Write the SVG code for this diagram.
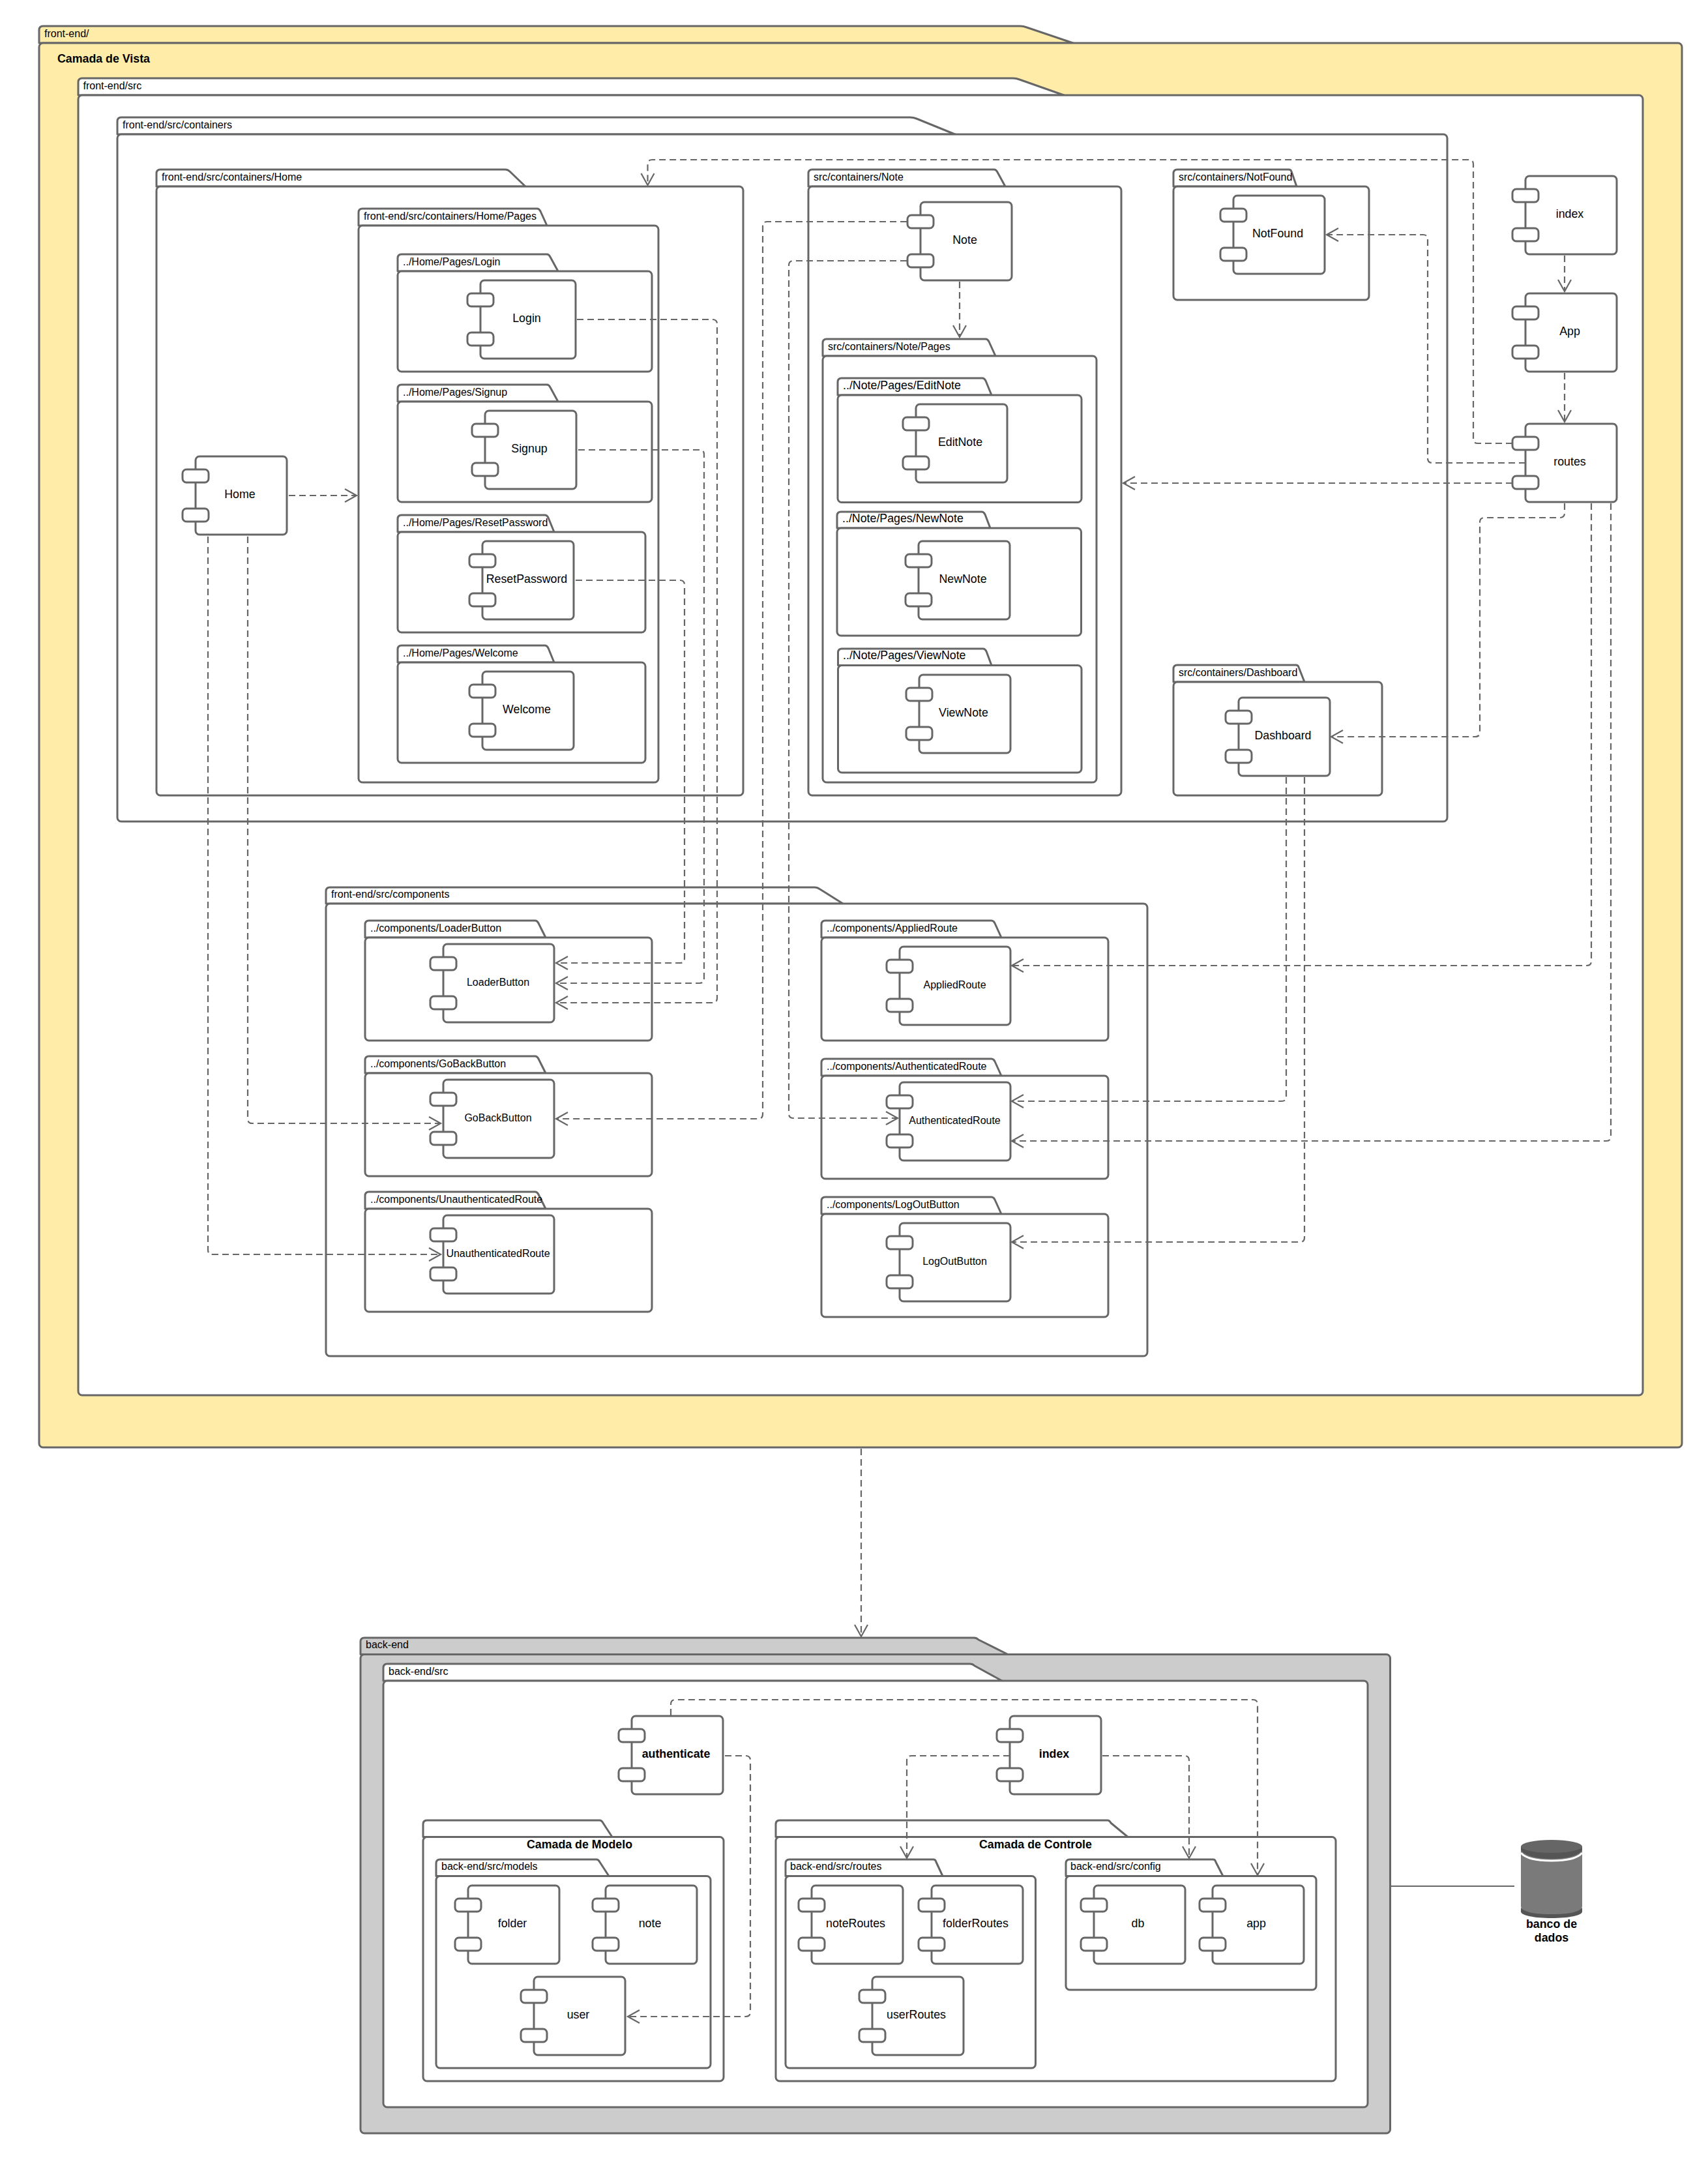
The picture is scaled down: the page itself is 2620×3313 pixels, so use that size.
<svg xmlns="http://www.w3.org/2000/svg" width="2620" height="3313" viewBox="0 0 2620 3313">
<style>
text{font-family:"Liberation Sans",Arial,sans-serif;fill:#000}
.l{font-size:16px}
.m{font-size:17.8px}
.b{font-size:17.8px;font-weight:700}
.s{font-size:16px;text-anchor:middle}
.mc{font-size:17.8px;text-anchor:middle}
.bc{font-size:17.8px;font-weight:700;text-anchor:middle}
.w path,.w rect{fill:#fff;stroke:#666;stroke-width:3;stroke-linejoin:round}
.y path,.y rect{fill:#ffeca9;stroke:#666;stroke-width:3;stroke-linejoin:round}
.g path,.g rect{fill:#ccc;stroke:#666;stroke-width:3;stroke-linejoin:round}
.k rect,#comp rect{fill:#fff;stroke:#666;stroke-width:3}
.d{fill:none;stroke:#666;stroke-width:2.2;stroke-dasharray:10 6}
.a{fill:none;stroke:#666;stroke-width:2.2}
</style>
<defs>
<symbol id="comp" overflow="visible"><rect x="20" width="140" height="120" rx="6"/><rect y="20" width="40" height="20" rx="6"/><rect y="80" width="40" height="20" rx="6"/></symbol>
</defs>
<g id="pkg-front-end" class="y"><path d="M60 66V46q0-6 6-6H1565q5 0 10 2L1646 66z"/><rect x="60" y="66" width="2520" height="2154" rx="6"/><text x="68" y="56.500" class="l">front-end/</text><text x="88" y="96" class="b">Camada de Vista</text></g>
<g id="pkg-src" class="w"><path d="M120 146V126q0-6 6-6H1554q5 0 10 2L1632 146z"/><rect x="120" y="146" width="2400" height="1994" rx="6"/><text x="127.500" y="136.500" class="l">front-end/src</text></g>
<g id="pkg-containers" class="w"><path d="M180 206V186q0-6 6-6H1396q5 0 10 2L1465 206z"/><rect x="180" y="206" width="2040" height="1054" rx="6"/><text x="188" y="196.500" class="l">front-end/src/containers</text></g>
<g id="pkg-home" class="w"><path d="M240 286V266q0-6 6-6H775q4 0 7 3L806 286z"/><rect x="240" y="286" width="900" height="934" rx="6"/><text x="248" y="276.500" class="l">front-end/src/containers/Home</text></g>
<g id="pkg-home-pages" class="w"><path d="M550 346V326q0-6 6-6H824q3 0 5 4L839 346z"/><rect x="550" y="346" width="460" height="854" rx="6"/><text x="558" y="336.500" class="l">front-end/src/containers/Home/Pages</text></g>
<g id="pkg-login" class="w"><path d="M610 416V396q0-6 6-6H839q3 0 5 4L856 416z"/><rect x="610" y="416" width="390" height="154" rx="6"/><text x="618" y="406.500" class="l">../Home/Pages/Login</text></g>
<g id="comp-login" class="k"><rect x="737" y="430" width="146" height="120" rx="6"/><rect x="717" y="450" width="40" height="20" rx="6"/><rect x="717" y="510" width="40" height="20" rx="6"/><text x="808" y="494" class="mc">Login</text></g>
<g id="pkg-signup" class="w"><path d="M610 616V596q0-6 6-6H839q3 0 5 4L856 616z"/><rect x="610" y="616" width="390" height="154" rx="6"/><text x="618" y="606.500" class="l">../Home/Pages/Signup</text></g>
<g id="comp-signup" class="k"><use href="#comp" x="724" y="630"/><text x="812" y="694" class="mc">Signup</text></g>
<g id="pkg-reset" class="w"><path d="M610 816V796q0-6 6-6H836q3 0 5 4L850 816z"/><rect x="610" y="816" width="380" height="154" rx="6"/><text x="618" y="806.500" class="l">../Home/Pages/ResetPassword</text></g>
<g id="comp-reset" class="k"><use href="#comp" x="720" y="830"/><text x="808" y="893.500" class="mc">ResetPassword</text></g>
<g id="pkg-welcome" class="w"><path d="M610 1016V996q0-6 6-6H836q3 0 5 4L850 1016z"/><rect x="610" y="1016" width="380" height="154" rx="6"/><text x="618" y="1006.500" class="l">../Home/Pages/Welcome</text></g>
<g id="comp-welcome" class="k"><use href="#comp" x="720" y="1030"/><text x="808" y="1093.500" class="mc">Welcome</text></g>
<g id="comp-home" class="k"><use href="#comp" x="280" y="700"/><text x="368" y="763.500" class="mc">Home</text></g>
<g id="pkg-note" class="w"><path d="M1240 286V266q0-6 6-6H1525q3 0 5 4L1542 286z"/><rect x="1240" y="286" width="480" height="934" rx="6"/><text x="1248" y="276.500" class="l">src/containers/Note</text></g>
<g id="comp-note" class="k"><use href="#comp" x="1392" y="310"/><text x="1480" y="373.500" class="mc">Note</text></g>
<g id="pkg-note-pages" class="w"><path d="M1262 546V526q0-6 6-6H1512q3 0 5 4L1527 546z"/><rect x="1262" y="546" width="420" height="654" rx="6"/><text x="1270" y="536.500" class="l">src/containers/Note/Pages</text></g>
<g id="pkg-editnote" class="w"><path d="M1285 606V586q0-6 6-6H1507q3 0 5 4L1521 606z"/><rect x="1285" y="606" width="374" height="164.500" rx="6"/><text x="1293" y="597" class="m">../Note/Pages/EditNote</text></g>
<g id="comp-editnote" class="k"><use href="#comp" x="1385" y="620"/><text x="1473" y="683.500" class="mc">EditNote</text></g>
<g id="pkg-newnote" class="w"><path d="M1284 810V791q0-6 6-6H1506q3 0 5 4L1519 810z"/><rect x="1284" y="810" width="374.500" height="165" rx="6"/><text x="1292" y="801" class="m">../Note/Pages/NewNote</text></g>
<g id="comp-newnote" class="k"><use href="#comp" x="1389" y="830"/><text x="1477" y="893.500" class="mc">NewNote</text></g>
<g id="pkg-viewnote" class="w"><path d="M1285.500 1020.500V1001q0-6 6-6H1508q3 0 5 4L1521 1020.500z"/><rect x="1285.500" y="1020.500" width="373.500" height="164.500" rx="6"/><text x="1293" y="1011" class="m">../Note/Pages/ViewNote</text></g>
<g id="comp-viewnote" class="k"><use href="#comp" x="1390" y="1035"/><text x="1478" y="1098.500" class="mc">ViewNote</text></g>
<g id="pkg-notfound" class="w"><path d="M1800 286V266q0-6 6-6H1977q3 0 4 3L1989 286z"/><rect x="1800" y="286" width="300" height="174" rx="6"/><text x="1808" y="276.500" class="l">src/containers/NotFound</text></g>
<g id="comp-notfound" class="k"><use href="#comp" x="1872" y="300"/><text x="1960" y="363.500" class="mc">NotFound</text></g>
<g id="pkg-dashboard" class="w"><path d="M1800 1046V1026q0-6 6-6H1988q3 0 4 3L2001 1046z"/><rect x="1800" y="1046" width="320" height="174" rx="6"/><text x="1808" y="1036.500" class="l">src/containers/Dashboard</text></g>
<g id="comp-dashboard" class="k"><use href="#comp" x="1880" y="1070"/><text x="1968" y="1133.500" class="mc">Dashboard</text></g>
<g id="comp-index" class="k"><use href="#comp" x="2320" y="270"/><text x="2408" y="333.500" class="mc">index</text></g>
<g id="comp-app" class="k"><use href="#comp" x="2320" y="450"/><text x="2408" y="513.500" class="mc">App</text></g>
<g id="comp-routes" class="k"><use href="#comp" x="2320" y="650"/><text x="2408" y="713.500" class="mc">routes</text></g>
<g id="pkg-components" class="w"><path d="M500 1386V1367q0-6 6-6H1250q4 0 8 3L1293 1386z"/><rect x="500" y="1386" width="1260" height="694" rx="6"/><text x="508" y="1376.500" class="l">front-end/src/components</text></g>
<g id="pkg-loader" class="w"><path d="M560 1438V1418q0-6 6-6H821q3 0 5 4L837 1438z"/><rect x="560" y="1438" width="440" height="158" rx="6"/><text x="568" y="1428.500" class="l">../components/LoaderButton</text></g>
<g id="comp-loader" class="k"><rect x="680" y="1448" width="170" height="120" rx="6"/><rect x="660" y="1468" width="40" height="20" rx="6"/><rect x="660" y="1528" width="40" height="20" rx="6"/><text x="764" y="1511.500" class="s">LoaderButton</text></g>
<g id="pkg-goback" class="w"><path d="M560 1646V1626q0-6 6-6H821q3 0 5 4L837 1646z"/><rect x="560" y="1646" width="440" height="158" rx="6"/><text x="568" y="1636.500" class="l">../components/GoBackButton</text></g>
<g id="comp-goback" class="k"><rect x="680" y="1656" width="170" height="120" rx="6"/><rect x="660" y="1676" width="40" height="20" rx="6"/><rect x="660" y="1736" width="40" height="20" rx="6"/><text x="764" y="1719.500" class="s">GoBackButton</text></g>
<g id="pkg-unauth" class="w"><path d="M560 1854V1834q0-6 6-6H821q3 0 5 4L837 1854z"/><rect x="560" y="1854" width="440" height="158" rx="6"/><text x="568" y="1844.500" class="l">../components/UnauthenticatedRoute</text></g>
<g id="comp-unauth" class="k"><rect x="680" y="1864" width="170" height="120" rx="6"/><rect x="660" y="1884" width="40" height="20" rx="6"/><rect x="660" y="1944" width="40" height="20" rx="6"/><text x="764" y="1927.500" class="s">UnauthenticatedRoute</text></g>
<g id="pkg-applied" class="w"><path d="M1260 1438V1418q0-6 6-6H1521q3 0 5 4L1536 1438z"/><rect x="1260" y="1438" width="440" height="158" rx="6"/><text x="1268" y="1428.500" class="l">../components/AppliedRoute</text></g>
<g id="comp-applied" class="k"><rect x="1380" y="1452" width="170" height="120" rx="6"/><rect x="1360" y="1472" width="40" height="20" rx="6"/><rect x="1360" y="1532" width="40" height="20" rx="6"/><text x="1464.500" y="1515.500" class="s">AppliedRoute</text></g>
<g id="pkg-authroute" class="w"><path d="M1260 1650V1630q0-6 6-6H1521q3 0 5 4L1536 1650z"/><rect x="1260" y="1650" width="440" height="158" rx="6"/><text x="1268" y="1640.500" class="l">../components/AuthenticatedRoute</text></g>
<g id="comp-authroute" class="k"><rect x="1380" y="1660" width="170" height="120" rx="6"/><rect x="1360" y="1680" width="40" height="20" rx="6"/><rect x="1360" y="1740" width="40" height="20" rx="6"/><text x="1464.500" y="1723.500" class="s">AuthenticatedRoute</text></g>
<g id="pkg-logout" class="w"><path d="M1260 1862V1842q0-6 6-6H1521q3 0 5 4L1536 1862z"/><rect x="1260" y="1862" width="440" height="158" rx="6"/><text x="1268" y="1852.500" class="l">../components/LogOutButton</text></g>
<g id="comp-logout" class="k"><rect x="1380" y="1876" width="170" height="120" rx="6"/><rect x="1360" y="1896" width="40" height="20" rx="6"/><rect x="1360" y="1956" width="40" height="20" rx="6"/><text x="1464.500" y="1939.500" class="s">LogOutButton</text></g>

<g id="pkg-back-end" class="g"><path d="M553 2537.500V2518q0-6 6-6H1494q4 0 7 3L1546 2537.500z"/><rect x="553" y="2537.500" width="1579.500" height="734.500" rx="6"/><text x="561" y="2528" class="l">back-end</text></g>
<g id="pkg-back-src" class="w"><path d="M588 2578V2558q0-6 6-6H1488q4 0 7 3L1537 2578z"/><rect x="588" y="2578" width="1510" height="654" rx="6"/><text x="596" y="2568.500" class="l">back-end/src</text></g>
<g id="comp-authenticate" class="k"><use href="#comp" x="949" y="2632"/><text x="1037" y="2696" class="bc">authenticate</text></g>
<g id="comp-back-index" class="k"><use href="#comp" x="1529" y="2632"/><text x="1617" y="2696" class="bc">index</text></g>
<g id="pkg-modelo" class="w"><path d="M649 2817.500V2798q0-6 6-6H920q3 0 5 4L939 2817.500z"/><rect x="649" y="2817.500" width="461" height="374.500" rx="6"/><text x="889" y="2835" class="bc">Camada de Modelo</text></g>
<g id="pkg-models" class="w"><path d="M669 2877.500V2858q0-6 6-6H915q3 0 5 4L934 2877.500z"/><rect x="669" y="2877.500" width="421" height="294.500" rx="6"/><text x="677" y="2868" class="l">back-end/src/models</text></g>
<g id="comp-folder" class="k"><use href="#comp" x="698" y="2892"/><text x="786" y="2956" class="mc">folder</text></g>
<g id="comp-model-note" class="k"><use href="#comp" x="909" y="2892"/><text x="997" y="2956" class="mc">note</text></g>
<g id="comp-user" class="k"><use href="#comp" x="799" y="3032"/><text x="887" y="3096" class="mc">user</text></g>
<g id="pkg-controle" class="w"><path d="M1190 2817.500V2798q0-6 6-6H1699q3 0 5 4L1730 2817.500z"/><rect x="1190" y="2817.500" width="859" height="374.500" rx="6"/><text x="1588.500" y="2835" class="bc">Camada de Controle</text></g>
<g id="pkg-routes" class="w"><path d="M1205 2877.500V2858q0-6 6-6H1432q3 0 4 4L1446 2877.500z"/><rect x="1205" y="2877.500" width="383.500" height="294.500" rx="6"/><text x="1212" y="2868" class="l">back-end/src/routes</text></g>
<g id="comp-noteroutes" class="k"><use href="#comp" x="1225" y="2892"/><text x="1312.500" y="2956" class="mc">noteRoutes</text></g>
<g id="comp-folderroutes" class="k"><use href="#comp" x="1409" y="2892"/><text x="1496.500" y="2956" class="mc">folderRoutes</text></g>
<g id="comp-userroutes" class="k"><use href="#comp" x="1318" y="3032"/><text x="1405.500" y="3096" class="mc">userRoutes</text></g>
<g id="pkg-config" class="w"><path d="M1635 2877.500V2858q0-6 6-6H1861q3 0 4 4L1876 2877.500z"/><rect x="1635" y="2877.500" width="384" height="174.500" rx="6"/><text x="1642" y="2868" class="l">back-end/src/config</text></g>
<g id="comp-db" class="k"><use href="#comp" x="1658" y="2892"/><text x="1745.500" y="2956" class="mc">db</text></g>
<g id="comp-config-app" class="k"><use href="#comp" x="1840" y="2892"/><text x="1927" y="2956" class="mc">app</text></g>
<g id="db-banco">
<path d="M2333 2832V2924A47 17 0 0 0 2427 2924V2832z" fill="#7a7a7a"/>
<path d="M2333 2926V2932C2333 2938 2354 2942 2380 2942C2406 2942 2427 2938 2427 2932V2926C2420 2934 2403 2936 2380 2936C2357 2936 2340 2934 2333 2926z" fill="#555"/>
<path d="M2333 2842C2340 2850 2357 2854 2380 2854C2403 2854 2420 2850 2427 2842" fill="none" stroke="#fff" stroke-width="3"/>
<path d="M2333 2832V2838C2340 2847 2357 2851 2380 2851C2403 2851 2420 2847 2427 2838V2832z" fill="#555"/>
<ellipse cx="2380" cy="2832" rx="47" ry="10" fill="#666"/>
<text x="2380" y="2957" class="bc">banco de</text><text x="2380" y="2978" class="bc">dados</text>
</g>

<g id="connectors">
<path class="d" d="M443 760H547"/><path class="a" d="M529 750L547 760L529 770"/>
<path class="d" d="M380 823V1716q0 7 7 7H676"/><path class="a" d="M658 1713L676 1723L658 1733"/>
<path class="d" d="M319 823V1917q0 7 7 7H676"/><path class="a" d="M658 1914L676 1924L658 1934"/>
<path class="d" d="M885 490H1093q7 0 7 7V1531q0 7-7 7H853"/><path class="a" d="M871 1528L853 1538L871 1548"/>
<path class="d" d="M887 690H1073q7 0 7 7V1501q0 7-7 7H853"/><path class="a" d="M871 1498L853 1508L871 1518"/>
<path class="d" d="M883 890H1043q7 0 7 7V1470q0 7-7 7H853"/><path class="a" d="M871 1467L853 1477L871 1487"/>
<path class="d" d="M1391 340H1177q-7 0-7 7V1709q0 7-7 7H853"/><path class="a" d="M871 1706L853 1716L871 1726"/>
<path class="d" d="M1391 400H1217q-7 0-7 7V1708q0 7 7 7H1377"/><path class="a" d="M1359 1705L1377 1715L1359 1725"/>
<path class="d" d="M1472 432V517"/><path class="a" d="M1462 499L1472 517L1482 499"/>
<path class="d" d="M2400 392V447"/><path class="a" d="M2390 429L2400 447L2410 429"/>
<path class="d" d="M2400 572V647"/><path class="a" d="M2390 629L2400 647L2410 629"/>
<path class="d" d="M2320 680H2267q-7 0-7-7V252q0-7-7-7H1000.500q-7 0-7 7V284"/><path class="a" d="M983.500 266L993.500 284L1003.500 266"/>
<path class="d" d="M2340 710H2197q-7 0-7-7V367q0-7-7-7H2035"/><path class="a" d="M2053 350L2035 360L2053 370"/>
<path class="d" d="M2320 741H1723"/><path class="a" d="M1741 731L1723 741L1741 751"/>
<path class="d" d="M2400 772V787q0 7-7 7H2277q-7 0-7 7V1123q0 7-7 7H2042"/><path class="a" d="M2060 1120L2042 1130L2060 1140"/>
<path class="d" d="M2441 772V1474q0 7-7 7H1552"/><path class="a" d="M1570 1471L1552 1481L1570 1491"/>
<path class="d" d="M2471 772V1743q0 7-7 7H1552"/><path class="a" d="M1570 1740L1552 1750L1570 1760"/>
<path class="d" d="M1973 1192V1682q0 7-7 7H1552"/><path class="a" d="M1570 1679L1552 1689L1570 1699"/>
<path class="d" d="M2001 1192V1898q0 7-7 7H1552"/><path class="a" d="M1570 1895L1552 1905L1570 1915"/>
<path class="d" d="M1321 2222V2510"/><path class="a" d="M1311 2492L1321 2510L1331 2492"/>
<path class="d" d="M1112 2693H1144q7 0 7 7V3086q0 7-7 7H963"/><path class="a" d="M981 3083L963 3093L981 3103"/>
<path class="d" d="M1029 2631V2614q0-7 7-7H1922q7 0 7 7V2876"/><path class="a" d="M1919 2858L1929 2876L1939 2858"/>
<path class="d" d="M1549 2693H1398q-7 0-7 7V2850"/><path class="a" d="M1381 2832L1391 2850L1401 2832"/>
<path class="d" d="M1691 2693H1817q7 0 7 7V2850"/><path class="a" d="M1814 2832L1824 2850L1834 2832"/>
<path class="a" d="M2133 2893H2323"/>
</g>
</svg>
